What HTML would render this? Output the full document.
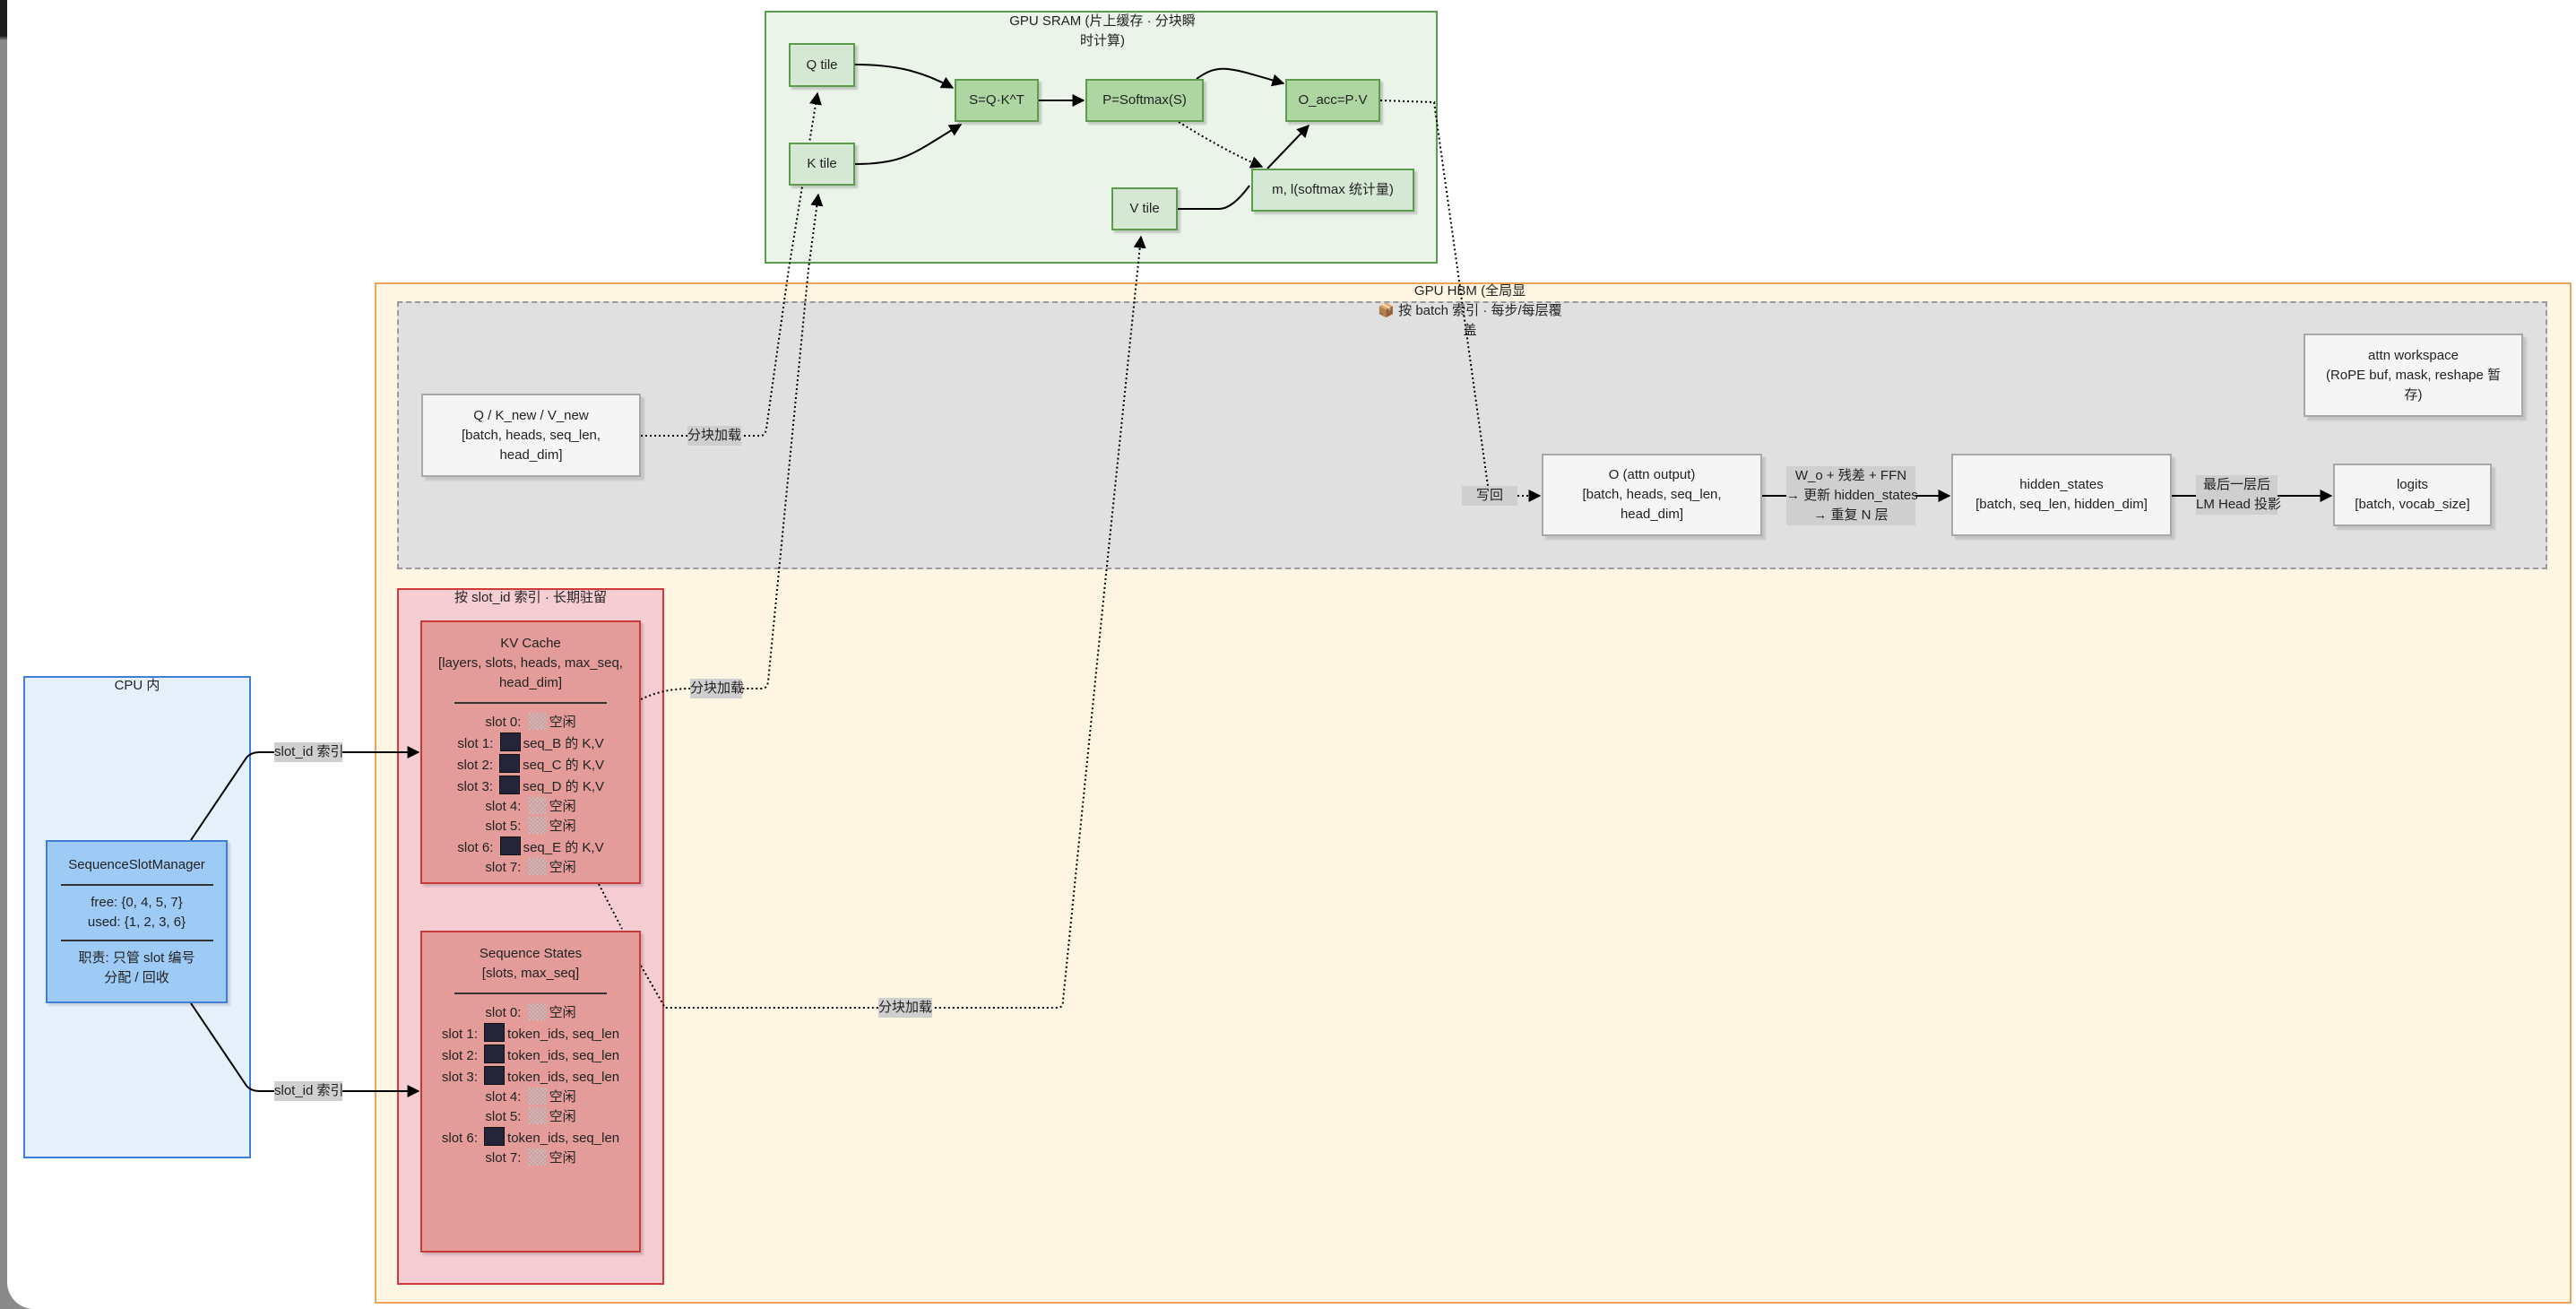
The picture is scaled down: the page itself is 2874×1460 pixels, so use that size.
<!DOCTYPE html>
<html><head><meta charset="utf-8">
<style>
html,body{margin:0;padding:0;}
body{width:2874px;height:1460px;position:relative;background:#fff;overflow:hidden;font-family:"Liberation Sans","Noto Sans CJK SC",sans-serif;font-size:15px;color:#222;}
.abs{position:absolute;box-sizing:border-box;}
.node{position:absolute;box-sizing:border-box;display:flex;flex-direction:column;align-items:center;justify-content:center;text-align:center;line-height:22px;}
.g1{background:#d5e8d4;border:2px solid #5d9c4f;box-shadow:3px 3px 2px rgba(0,0,0,.18);}
.g2{background:#aed6a3;border:2px solid #5d9c4f;box-shadow:3px 3px 2px rgba(0,0,0,.18);}
.wn{background:#f5f5f5;border:2px solid #a8a8a8;box-shadow:4px 4px 2px rgba(0,0,0,.12);}
.lbl{position:absolute;background:#cfcfcf;text-align:center;line-height:22px;font-size:15px;white-space:nowrap;}
.kv{background:#e39c9a;border:2px solid #c9383a;box-shadow:3px 3px 2px rgba(0,0,0,.15);align-items:center;justify-content:flex-start;padding-top:13px;}
.sep{width:170px;border-top:2px solid #333;margin:10px 0 10px 0;}
.dk{display:inline-block;width:21px;height:19px;background:#25253a;border:1px solid #111;vertical-align:-4px;margin:0 3px;}
.lt{display:inline-block;width:21px;height:19px;vertical-align:-4px;margin:0 3px;background:#d8b8b8;background-image:repeating-linear-gradient(45deg,#c9a0a0 0 1px,transparent 1px 3px),repeating-linear-gradient(-45deg,#c9a0a0 0 1px,transparent 1px 3px);}
</style></head><body>
<div class="abs" style="left:0;top:0;width:8px;height:1460px;background:linear-gradient(#1c1c1c,#1c1c1c 40px,#8a8a8a 45px,#8a8a8a);"></div>
<div class="abs" style="left:8px;top:1420px;width:40px;height:40px;background:#8a8a8a;"></div>
<div class="abs" style="left:8px;top:1400px;width:60px;height:60px;background:#fff;border-bottom-left-radius:30px;"></div>

<!-- containers -->
<div class="abs" style="left:853px;top:12px;width:751px;height:282px;background:#eaf4e8;border:2px solid #5d9c4f;"></div>
<div class="abs" style="left:1030px;top:13px;width:400px;text-align:center;line-height:22px;">GPU SRAM (片上缓存 · 分块瞬<br>时计算)</div>

<div class="abs" style="left:418px;top:315px;width:2451px;height:1139px;background:#fef6e2;border:2px solid #f0a35a;"></div>
<div class="abs" style="left:443px;top:336px;width:2399px;height:299px;background:#e0e0e0;border:2px dashed #9a9a9a;"></div>
<div class="abs" style="left:1480px;top:314px;width:320px;text-align:center;line-height:22px;">GPU HBM (全局显</div>
<div class="abs" style="left:1480px;top:336px;width:320px;text-align:center;line-height:22px;">📦 按 batch 索引 · 每步/每层覆<br>盖</div>

<div class="abs" style="left:443px;top:656px;width:298px;height:777px;background:#f6cdd3;border:2px solid #d23a3a;"></div>
<div class="abs" style="left:443px;top:656px;width:298px;text-align:center;line-height:22px;">按 slot_id 索引 · 长期驻留</div>

<div class="abs" style="left:26px;top:754px;width:254px;height:538px;background:#e6f0fb;border:2px solid #3f7fd6;"></div>
<div class="abs" style="left:26px;top:754px;width:254px;text-align:center;line-height:22px;">CPU 内</div>

<svg class="abs" style="left:0;top:0;" width="2874" height="1460" viewBox="0 0 2874 1460">
<defs><marker id="a" viewBox="0 0 10 10" refX="9" refY="5" markerWidth="7" markerHeight="7" orient="auto"><path d="M0,0L10,5L0,10z" fill="#000"/></marker></defs>
<g fill="none" stroke="#000" stroke-width="2">
<path d="M954,72 C1000,72 1030,80 1063,98" marker-end="url(#a)"/>
<path d="M954,183 C1010,183 1020,170 1072,139" marker-end="url(#a)"/>
<path d="M1159,112 L1209,112" marker-end="url(#a)"/>
<path d="M1335,88 C1360,70 1370,75 1432,93" marker-end="url(#a)"/>
<path d="M1414,188 L1460,140" marker-end="url(#a)"/>
<path d="M1314,233 L1360,233 Q1375,233 1394,207"/>
<path d="M213,937 L275,845 Q280,839 290,839 L467,839" marker-end="url(#a)"/>
<path d="M213,1119 L275,1211 Q280,1217 290,1217 L467,1217" marker-end="url(#a)"/>
<path d="M1966,553 L2175,553" marker-end="url(#a)"/>
<path d="M2423,553 L2601,553" marker-end="url(#a)"/>
</g>
<g fill="none" stroke="#000" stroke-width="2" stroke-dasharray="2,3">
<path d="M1315,136 Q1370,170 1408,186" marker-end="url(#a)"/>
<path d="M715,486 L848,486 Q854,486 855,478 L880,300 L912,104" marker-end="url(#a)"/>
<path d="M715,780 Q740,768 770,768 L850,768 Q856,768 857,760 L902,300 L913,217" marker-end="url(#a)"/>
<path d="M715,1077 L742,1124 L1180,1124 Q1186,1124 1186,1116 L1233,650 L1273,264" marker-end="url(#a)"/>
<path d="M1540,112 L1600,114 L1660,542"/>
<path d="M1693,553 L1718,553" marker-end="url(#a)"/>
<path d="M668,986 L694,1036"/>
</g>
</svg>

<!-- SRAM nodes -->
<div class="node g1" style="left:880px;top:48px;width:74px;height:49px;">Q tile</div>
<div class="node g1" style="left:880px;top:159px;width:74px;height:48px;">K tile</div>
<div class="node g2" style="left:1065px;top:88px;width:94px;height:48px;">S=Q·K^T</div>
<div class="node g2" style="left:1211px;top:88px;width:132px;height:48px;">P=Softmax(S)</div>
<div class="node g2" style="left:1434px;top:88px;width:106px;height:48px;overflow:hidden;white-space:nowrap;">O_acc=P·V</div>
<div class="node g1" style="left:1396px;top:188px;width:182px;height:48px;">m, l(softmax 统计量)</div>
<div class="node g1" style="left:1240px;top:209px;width:74px;height:48px;">V tile</div>

<!-- HBM nodes -->
<div class="node wn" style="left:470px;top:439px;width:245px;height:93px;">Q / K_new / V_new<br>[batch, heads, seq_len,<br>head_dim]</div>
<div class="lbl" style="left:767px;top:475px;width:60px;">分块加载</div>
<div class="node wn" style="left:2570px;top:372px;width:245px;height:93px;">attn workspace<br>(RoPE buf, mask, reshape 暂<br>存)</div>
<div class="lbl" style="left:1631px;top:542px;width:62px;">写回</div>
<div class="node wn" style="left:1720px;top:506px;width:246px;height:92px;">O (attn output)<br>[batch, heads, seq_len,<br>head_dim]</div>
<div class="lbl" style="left:1993px;top:520px;width:144px;">W_o + 残差 + FFN<br>→ 更新 hidden_states<br>→ 重复 N 层</div>
<div class="node wn" style="left:2177px;top:506px;width:246px;height:92px;">hidden_states<br>[batch, seq_len, hidden_dim]</div>
<div class="lbl" style="left:2450px;top:530px;width:91px;">最后一层后<br>LM Head 投影</div>
<div class="node wn" style="left:2603px;top:517px;width:177px;height:70px;">logits<br>[batch, vocab_size]</div>

<!-- KV -->
<div class="lbl" style="left:770px;top:757px;width:58px;">分块加载</div>
<div class="node kv" style="left:469px;top:692px;width:246px;height:294px;">
<div>KV Cache</div><div>[layers, slots, heads, max_seq,</div><div>head_dim]</div><div class="sep"></div>
<div>slot 0: <span class="lt"></span>空闲</div>
<div>slot 1: <span class="dk"></span>seq_B 的 K,V</div>
<div>slot 2: <span class="dk"></span>seq_C 的 K,V</div>
<div>slot 3: <span class="dk"></span>seq_D 的 K,V</div>
<div>slot 4: <span class="lt"></span>空闲</div>
<div>slot 5: <span class="lt"></span>空闲</div>
<div>slot 6: <span class="dk"></span>seq_E 的 K,V</div>
<div>slot 7: <span class="lt"></span>空闲</div>
</div>
<div class="node kv" style="left:469px;top:1038px;width:246px;height:359px;">
<div>Sequence States</div><div>[slots, max_seq]</div><div class="sep"></div>
<div>slot 0: <span class="lt"></span>空闲</div>
<div>slot 1: <span class="dk"></span>token_ids, seq_len</div>
<div>slot 2: <span class="dk"></span>token_ids, seq_len</div>
<div>slot 3: <span class="dk"></span>token_ids, seq_len</div>
<div>slot 4: <span class="lt"></span>空闲</div>
<div>slot 5: <span class="lt"></span>空闲</div>
<div>slot 6: <span class="dk"></span>token_ids, seq_len</div>
<div>slot 7: <span class="lt"></span>空闲</div>
</div>
<div class="lbl" style="left:980px;top:1113px;width:60px;">分块加载</div>

<!-- CPU -->
<div class="lbl" style="left:306px;top:828px;width:76px;">slot_id 索引</div>
<div class="lbl" style="left:306px;top:1206px;width:76px;">slot_id 索引</div>
<div class="node" style="left:51px;top:937px;width:203px;height:182px;background:#9ecbf5;border:2px solid #3f7fd6;box-shadow:3px 3px 2px rgba(0,0,0,.12);">
<div>SequenceSlotManager</div><div class="sep" style="margin:10px 0 8px;"></div>
<div>free: {0, 4, 5, 7}</div><div>used: {1, 2, 3, 6}</div><div class="sep" style="margin:8px 0;"></div>
<div>职责: 只管 slot 编号</div><div>分配 / 回收</div>
</div>
</body></html>
